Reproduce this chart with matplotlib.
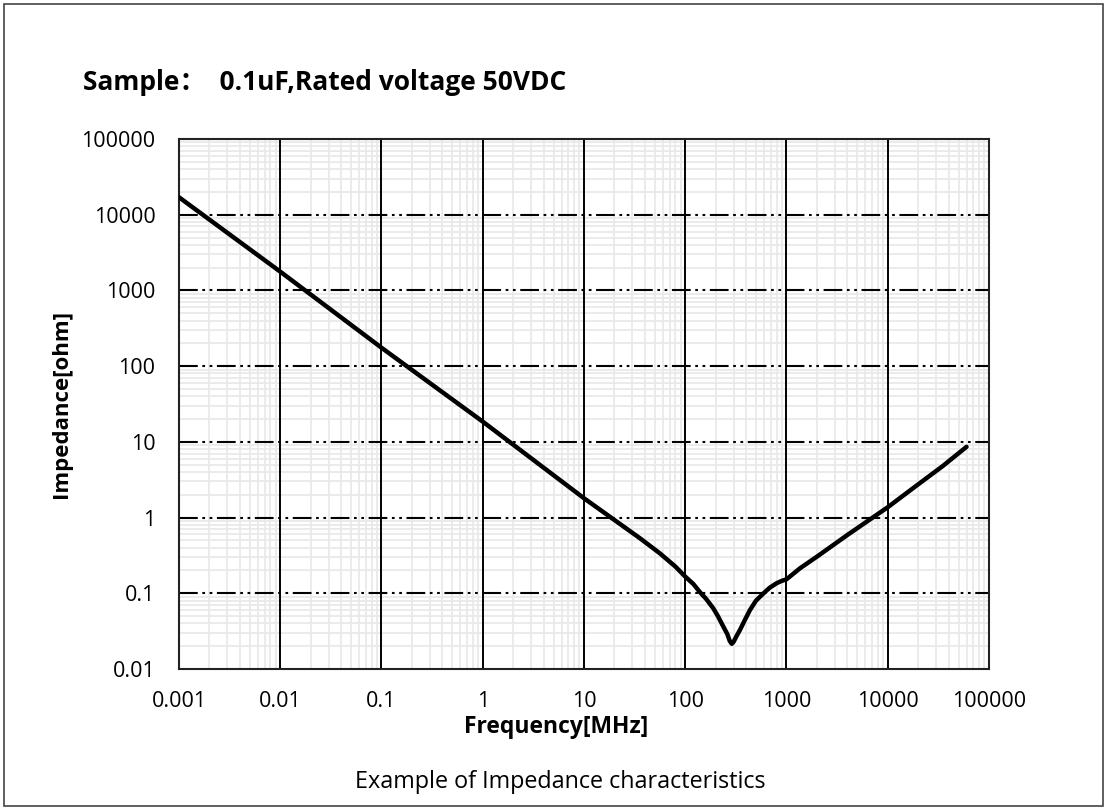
import numpy as np
import matplotlib
matplotlib.use("Agg")
import matplotlib.pyplot as plt
from matplotlib.patches import Rectangle
from matplotlib.ticker import LogLocator, FixedLocator, FixedFormatter, NullFormatter

# Impedance curve (frequency in MHz, impedance in ohm)
freq_mhz = [0.001, 0.01, 0.1, 1, 10, 35.7, 56, 80, 100, 120, 140, 160, 189, 210, 238,
            260, 275, 288, 300, 320, 347, 390, 436, 500, 590, 680, 800, 900, 1000,
            1360, 2000, 4000, 10000, 20000, 35000, 60000]
impedance = [17000, 1770, 175, 18.5, 1.8, 0.533, 0.338, 0.225, 0.166, 0.133, 0.103, 0.085,
             0.0634, 0.050, 0.0362, 0.029, 0.0235, 0.0215, 0.0228, 0.027, 0.0328, 0.045,
             0.0602, 0.080, 0.0993, 0.118, 0.136, 0.146, 0.153,
             0.214, 0.305, 0.59, 1.37, 2.75, 4.8, 8.6]

x_ticks = [0.001, 0.01, 0.1, 1, 10, 100, 1000, 10000, 100000]
x_labels = ["0.001", "0.01", "0.1", "1", "10", "100", "1000", "10000", "100000"]
y_ticks = [0.01, 0.1, 1, 10, 100, 1000, 10000, 100000]
y_labels = ["0.01", "0.1", "1", "10", "100", "1000", "10000", "100000"]

font = ["Open Sans", "Noto Sans CJK SC", "DejaVu Sans"]
plt.rcParams["font.family"] = font

W, H = 1107, 810
fig = plt.figure(figsize=(W / 100, H / 100), dpi=100)
ax = fig.add_axes([179 / W, 1 - 669 / H, (989 - 179) / W, (669 - 139) / H])

ax.set_xscale("log")
ax.set_yscale("log")
ax.set_xlim(0.001, 100000)
ax.set_ylim(0.01, 100000)

# minor grid (light gray)
ax.xaxis.set_minor_locator(LogLocator(base=10, subs=np.arange(2, 10), numticks=50))
ax.yaxis.set_minor_locator(LogLocator(base=10, subs=np.arange(2, 10), numticks=50))
ax.xaxis.set_minor_formatter(NullFormatter())
ax.yaxis.set_minor_formatter(NullFormatter())
ax.grid(which="minor", color="#e9e9e9", linewidth=1.3)

ax.xaxis.set_major_locator(FixedLocator(x_ticks))
ax.xaxis.set_major_formatter(FixedFormatter(x_labels))
ax.yaxis.set_major_locator(FixedLocator(y_ticks))
ax.yaxis.set_major_formatter(FixedFormatter(y_labels))
ax.set_axisbelow(True)

# major grid on top of the minor one: solid verticals, dash-dot-dot horizontals
for xv in x_ticks[1:-1]:
    ax.axvline(xv, color="black", linewidth=1.4, zorder=2)
for yv in y_ticks[1:-1]:
    ax.axhline(yv, color="black", linewidth=1.5, zorder=2,
               linestyle=(0, (9, 2.2, 1.3, 2.2, 1.3, 2.2)))

ax.tick_params(which="both", length=0)
ax.tick_params(axis="x", pad=16, labelsize=15.5)
ax.tick_params(axis="y", pad=17, labelsize=15.5)
for s in ax.spines.values():
    s.set_linewidth(1.5)
    s.set_color("#222222")
    s.set_zorder(3)

ax.plot(freq_mhz, impedance, color="black", linewidth=3.2, solid_capstyle="round",
        solid_joinstyle="round", zorder=5)

fig.text(0.502, 1 - 727 / H, "Frequency[MHz]", ha="center", va="center",
         fontsize=16.5, fontweight="bold")
fig.text(62 / W, 1 - 404 / H, "Impedance[ohm]", ha="center", va="center",
         rotation=90, fontsize=16, fontweight="bold")
fig.text(83 / W, 1 - 82 / H, "Sample：  0.1uF,Rated voltage 50VDC", ha="left", va="center",
         fontsize=19, fontweight="bold")
fig.text(0.506, 1 - 782 / H, "Example of Impedance characteristics", ha="center", va="center",
         fontsize=16.8)

fig.patches.append(Rectangle((4 / W, 4 / H), 1 - 8 / W, 1 - 8 / H, transform=fig.transFigure,
                             fill=False, edgecolor="#444444", linewidth=1.2))

fig.savefig("out.png", dpi=100)
